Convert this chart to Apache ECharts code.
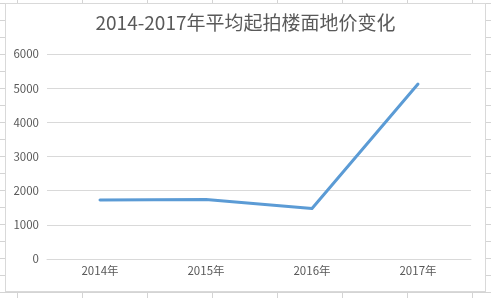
<!DOCTYPE html>
<html>
<head>
<meta charset="utf-8">
<script src="https://cdn.jsdelivr.net/npm/echarts@6/dist/echarts.min.js"></script>
<style>
html,body{margin:0;padding:0;width:491px;height:298px;overflow:hidden;background:#fff;}
#bg{position:absolute;left:0;top:0;width:491px;height:298px;
background-image:
 linear-gradient(to right, #d4d4d4 1px, transparent 1px),
 linear-gradient(to bottom, #d4d4d4 1px, transparent 1px);
background-size:65px 17px;background-position:17px 3px;}
#chart{position:absolute;left:5px;top:3px;width:481px;height:289px;background:#fff;border:1px solid #d9d9d9;box-sizing:border-box;}
</style>
</head>
<body>
<div id="bg"></div>
<div id="chart"></div>
<script>
const categories = ['2014年', '2015年', '2016年', '2017年'];
const values = [1730, 1740, 1480, 5120];
const titleText = '2014-2017年平均起拍楼面地价变化';

const chart = echarts.init(document.getElementById('chart'));
chart.setOption({
  animation: false,
  backgroundColor: '#fff',
  title: {
    text: titleText,
    left: 'center',
    top: 4,
    textStyle: {fontFamily: 'Noto Sans CJK SC', fontSize: 19, fontWeight: 'normal', color: '#595959'}
  },
  grid: {left: 41, right: 14, top: 50, bottom: 32},
  xAxis: {
    type: 'category',
    data: categories,
    boundaryGap: true,
    axisLine: {show: true, lineStyle: {color: '#d9d9d9', width: 1}},
    axisTick: {show: false},
    axisLabel: {color: '#595959', fontSize: 11.5, fontFamily: 'Noto Sans CJK SC', margin: 6}
  },
  yAxis: {
    type: 'value',
    min: 0, max: 6000, interval: 1000,
    axisLine: {show: false},
    axisTick: {show: false},
    splitLine: {lineStyle: {color: '#d9d9d9', width: 1}},
    axisLabel: {color: '#595959', fontSize: 11.5, fontFamily: 'Noto Sans CJK SC', margin: 8, formatter: function (v) { return String(v); }}
  },
  series: [{
    type: 'line',
    data: values,
    symbol: 'none',
    lineStyle: {color: '#5b9bd5', width: 3, cap: 'round', join: 'round'},
    itemStyle: {color: '#5b9bd5'}
  }]
});
</script>
</body>
</html>
